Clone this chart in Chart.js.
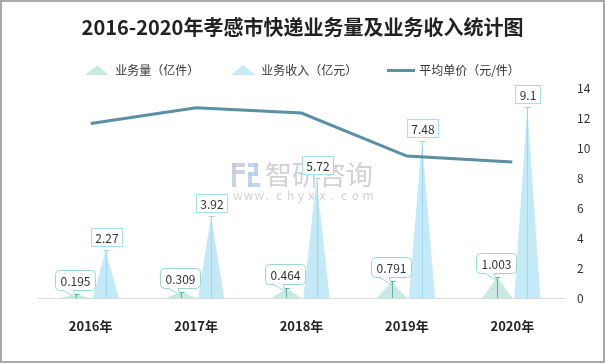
<!DOCTYPE html>
<html><head><meta charset="utf-8">
<script src="https://cdn.jsdelivr.net/npm/chart.js@4.4.1/dist/chart.umd.min.js"></script>
<style>html,body{margin:0;padding:0;background:#fff;}#wrap{width:605px;height:363px;position:relative;}canvas{display:block;}</style>
</head><body><div id="wrap"><canvas id="c" width="605" height="363"></canvas></div>
<script>
// ---- data ----
const categories = ['2016年', '2017年', '2018年', '2019年', '2020年'];
const volume = [0.195, 0.309, 0.464, 0.791, 1.003];      // 业务量（亿件）
const revenue = [2.27, 3.92, 5.72, 7.48, 9.1];          // 业务收入（亿元）
const unitPrice = [11.64, 12.69, 12.33, 9.46, 9.07];    // 平均单价（元/件）
const seriesNames = ['业务量（亿件）', '业务收入（亿元）', '平均单价（元/件）'];
const chartTitle = '2016-2020年孝感市快递业务量及业务收入统计图';

const FONT = '"Noto Sans CJK SC", "Noto Sans", sans-serif';
const COL = {
  volFill: '#cbe9e4', volLine: '#5db4a6', volBorder: '#9dd8cf',
  revFill: '#c4eaf8', revLine: '#9fd8ee', revBorder: '#a9def1',
  line: '#5b8fa3'
};

function makeIcon(kind, color) {
  const cv = document.createElement('canvas');
  const g = cv.getContext('2d');
  if (kind === 'tri') {
    cv.width = 24; cv.height = 10;
    g.fillStyle = color; g.beginPath();
    g.moveTo(0, 10); g.lineTo(12, 0); g.lineTo(24, 10); g.closePath(); g.fill();
  } else {
    cv.width = 28; cv.height = 3;
    g.fillStyle = color; g.fillRect(0, 0, 28, 3);
  }
  return cv;
}
const icons = [makeIcon('tri', COL.volFill), makeIcon('tri', COL.revFill), makeIcon('line', COL.line)];

function roundedCallout(ctx, bx, by, bw, bh, r, tl, tr, tipX, tipY) {
  ctx.beginPath();
  ctx.moveTo(bx + r, by);
  ctx.lineTo(bx + bw - r, by);
  ctx.quadraticCurveTo(bx + bw, by, bx + bw, by + r);
  ctx.lineTo(bx + bw, by + bh - r);
  ctx.quadraticCurveTo(bx + bw, by + bh, bx + bw - r, by + bh);
  ctx.lineTo(tr, by + bh);
  ctx.lineTo(tipX, tipY);
  ctx.lineTo(tl, by + bh);
  ctx.lineTo(bx + r, by + bh);
  ctx.quadraticCurveTo(bx, by + bh, bx, by + bh - r);
  ctx.lineTo(bx, by + r);
  ctx.quadraticCurveTo(bx, by, bx + r, by);
  ctx.closePath();
}

const triPlugin = {
  id: 'tri',
  beforeDatasetsDraw(chart) {
    // watermark
    const ctx = chart.ctx;
    ctx.save();
    ctx.fillStyle = 'rgba(195,199,222,0.8)';
    ctx.fillRect(232, 163, 13, 4);
    ctx.fillRect(232, 170, 13, 4);
    ctx.fillRect(232, 163, 4, 24);
    ctx.fillStyle = 'rgba(178,206,236,0.8)';
    ctx.fillRect(248, 163, 10, 4);
    ctx.fillRect(254, 163, 4, 13);
    ctx.fillRect(248, 172, 10, 4);
    ctx.fillRect(248, 172, 4, 15);
    ctx.fillRect(248, 183, 12, 4);
    ctx.fillStyle = 'rgba(165,165,165,0.5)';
    ctx.font = '27px ' + FONT;
    ctx.textAlign = 'left'; ctx.textBaseline = 'middle';
    ctx.fillText('智研咨询', 265, 175);
    ctx.font = '12px ' + FONT;
    const s = 'www.chyxx.com';
    for (let i = 0; i < s.length; i++) ctx.fillText(s[i], 233 + i * 10.8, 195);
    ctx.restore();
  },
  afterDatasetDraw(chart, args) {
    const ds = chart.data.datasets[args.index];
    if (!ds.triFill) return;
    const ctx = chart.ctx;
    ctx.save();
    args.meta.data.forEach(el => {
      const w = el.width * ds.triScale;
      const x = el.x, top = el.y, base = el.base;
      ctx.fillStyle = ds.triFill;
      ctx.beginPath();
      ctx.moveTo(x - w / 2, base); ctx.lineTo(x, top); ctx.lineTo(x + w / 2, base);
      ctx.closePath(); ctx.fill();
      const px = Math.round(x) + 0.5, py = Math.round(top) + 0.5;
      ctx.strokeStyle = ds.triLine; ctx.lineWidth = 1;
      ctx.beginPath();
      ctx.moveTo(px, base); ctx.lineTo(px, py);
      ctx.moveTo(px - 3, py); ctx.lineTo(px + 3, py);
      ctx.stroke();
    });
    ctx.restore();
  },
  afterDatasetsDraw(chart) {
    const ctx = chart.ctx;
    ctx.save();
    ctx.font = '12px ' + FONT;
    ctx.textAlign = 'center'; ctx.textBaseline = 'middle';
    chart.data.datasets.forEach((ds, di) => {
      if (!ds.labelStyle) return;
      const meta = chart.getDatasetMeta(di);
      meta.data.forEach((el, i) => {
        const txt = String(ds.data[i]);
        const tw = ctx.measureText(txt).width;
        const x = Math.round(el.x), top = el.y;
        if (ds.labelStyle === 'box') {
          const bw = Math.round(tw + 8), bh = 18;
          const bx = Math.round(x - bw / 2) + 0.5, by = Math.round(top - 4 - bh) + 0.5;
          ctx.fillStyle = '#fff'; ctx.fillRect(bx, by, bw, bh);
          ctx.strokeStyle = ds.labelBorder; ctx.lineWidth = 1; ctx.strokeRect(bx, by, bw, bh);
          ctx.fillStyle = '#333'; ctx.fillText(txt, bx + bw / 2, by + bh / 2 + 0.5);
        } else {
          const bw = Math.round(tw + 10), bh = 20;
          const cx = x - 1;
          const bx = Math.round(cx - bw / 2) + 0.5, by = Math.round(top - 4 - bh) + 0.5;
          roundedCallout(ctx, bx, by, bw, bh, 4, cx - 11, cx - 2, x, Math.min(top + 4, el.base));
          ctx.fillStyle = '#fff'; ctx.fill();
          ctx.strokeStyle = ds.labelBorder; ctx.lineWidth = 1; ctx.stroke();
          ctx.fillStyle = '#333'; ctx.fillText(txt, bx + bw / 2, by + bh / 2 + 0.5);
        }
      });
    });
    ctx.restore();
  },
  afterDraw(chart) {
    const ctx = chart.ctx;
    ctx.save();
    ctx.strokeStyle = '#a9a9a9'; ctx.lineWidth = 2;
    ctx.strokeRect(1, 1, 603, 361);
    ctx.restore();
  }
};

new Chart(document.getElementById('c'), {
  data: {
    labels: categories,
    datasets: [
      {
        type: 'bar', label: seriesNames[0], data: volume, yAxisID: 'y', order: 1,
        backgroundColor: 'rgba(0,0,0,0)', borderWidth: 0,
        triFill: COL.volFill, triLine: COL.volLine, triScale: 1.0,
        labelStyle: 'callout', labelBorder: COL.volBorder,
        categoryPercentage: 0.57, barPercentage: 1.0
      },
      {
        type: 'bar', label: seriesNames[1], data: revenue, yAxisID: 'y', order: 2,
        backgroundColor: 'rgba(0,0,0,0)', borderWidth: 0,
        triFill: COL.revFill, triLine: COL.revLine, triScale: 0.87,
        labelStyle: 'box', labelBorder: COL.revBorder,
        categoryPercentage: 0.57, barPercentage: 1.0
      },
      {
        type: 'line', label: seriesNames[2], data: unitPrice, yAxisID: 'y1', order: 0,
        borderColor: COL.line, borderWidth: 3, pointRadius: 0, tension: 0, fill: false
      }
    ]
  },
  options: {
    responsive: false, animation: false, events: [],
    layout: { padding: 0 },
    scales: {
      x: {
        grid: { display: false, drawTicks: false },
        border: { display: true, color: '#d9d9d9', width: 1 },
        ticks: { color: '#222', font: { family: FONT, size: 13, weight: 'bold' }, padding: 20 },
        afterFit(s) { s.height = 65; }
      },
      y: {
        display: true, min: 0, max: 10, position: 'left',
        grid: { display: false, drawTicks: false },
        border: { display: false },
        ticks: { display: false },
        afterFit(s) { s.width = 38; }
      },
      y1: {
        position: 'right', min: 0, max: 14,
        grid: { display: false, drawTicks: false },
        border: { display: false },
        ticks: { stepSize: 2, color: '#333', font: { family: FONT, size: 12 }, padding: 12 },
        afterFit(s) { s.width = 40; }
      }
    },
    plugins: {
      title: {
        display: true, text: chartTitle, color: '#222',
        font: { family: FONT, size: 20, weight: 'bold', lineHeight: 1.2 },
        padding: { top: 15, bottom: -7 }
      },
      subtitle: {
        display: true, text: '', weight: 500,
        font: { size: 1, lineHeight: 1 }, padding: { top: 1, bottom: 0 }
      },
      legend: {
        display: true, position: 'top',
        labels: {
          usePointStyle: true, pointStyleWidth: 24, boxHeight: 12, padding: 32,
          color: '#333', font: { family: FONT, size: 12 },
          generateLabels(chart) {
            return chart.data.datasets.map((ds, i) => ({
              text: ds.label, pointStyle: icons[i], fillStyle: 'rgba(0,0,0,0)',
              strokeStyle: 'rgba(0,0,0,0)', lineWidth: 0, hidden: false,
              datasetIndex: i, fontColor: '#333'
            }));
          }
        }
      },
      tooltip: { enabled: false }
    }
  },
  plugins: [triPlugin]
});
</script>
</body></html>
